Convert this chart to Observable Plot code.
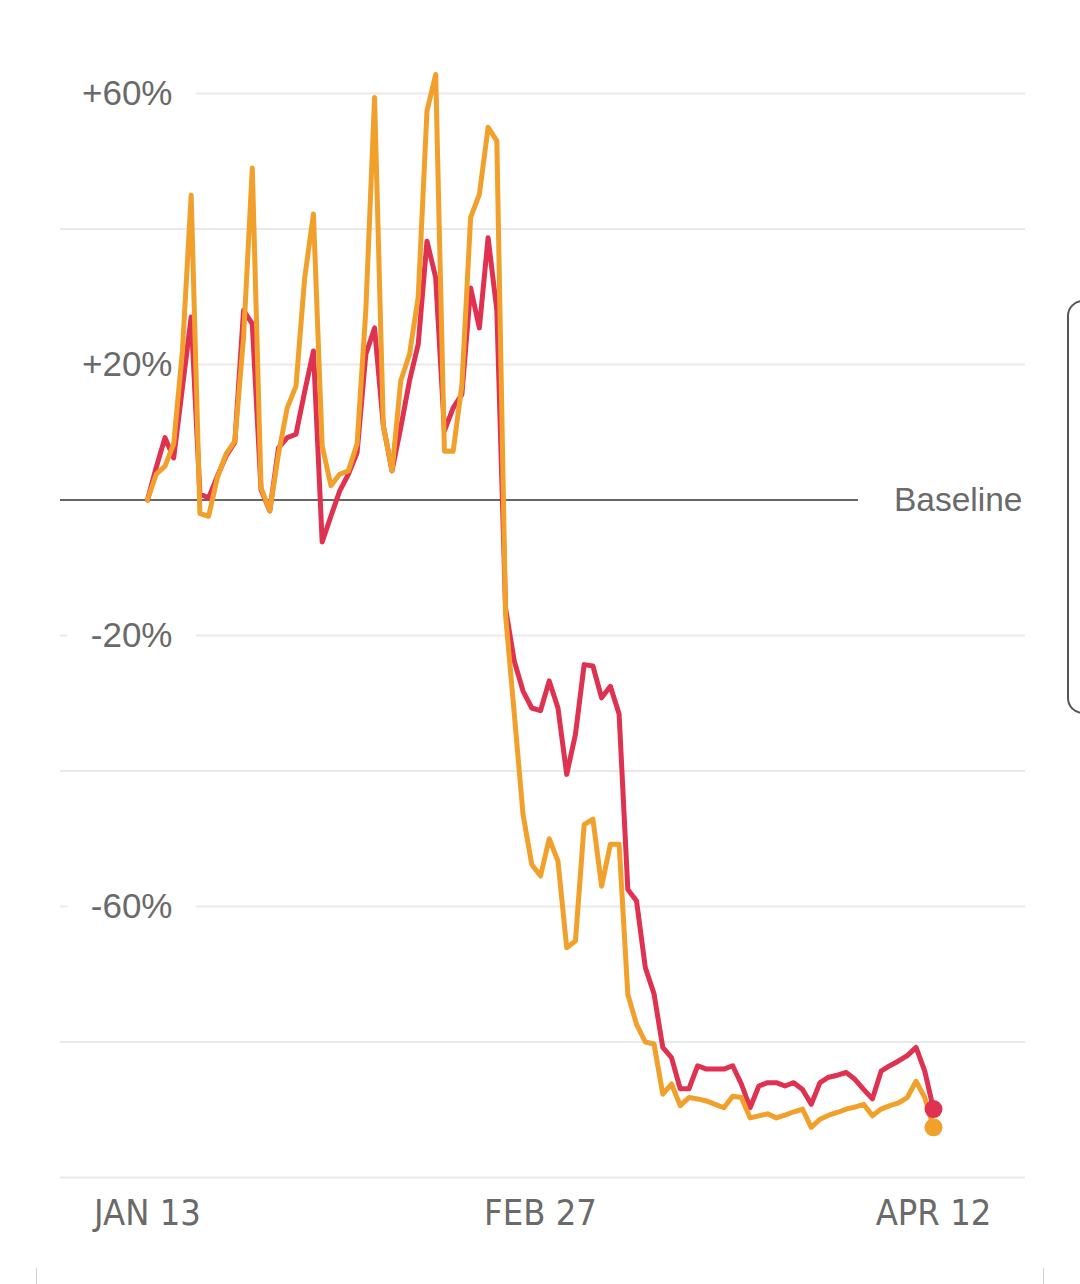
<!DOCTYPE html>
<html>
<head>
<meta charset="utf-8">
<script src="https://cdn.jsdelivr.net/npm/d3@7"></script>
<script src="https://cdn.jsdelivr.net/npm/@observablehq/plot@0.6"></script>
<style>
  html, body { margin: 0; padding: 0; background: #fff; }
  #wrap { position: relative; width: 1080px; height: 1284px; overflow: hidden; }
  .scroll { position: absolute; left: 1067px; top: 300px; width: 40px; height: 410px; border: 2px solid #555; border-radius: 16px; }
  .tick { position: absolute; top: 1268px; width: 1px; height: 16px; background: #d0d0d0; }
</style>
</head>
<body>
<div id="wrap"></div>
<script>
// Daily change vs. baseline (%), Jan 13 – Apr 12
const startDate = new Date(Date.UTC(2020, 0, 13));
const endDate = new Date(Date.UTC(2020, 3, 13));

const redValues = [
  0, 4.8, 9.2, 6.2, 16.6, 27, 0.9, 0.3, 3.5, 6.5, 8.5,
  28, 26, 1.5, -1.6, 7.7, 9.2, 9.7, 16, 22, -6.2,
  -2.4, 1.3, 3.8, 7, 21.5, 25.4, 11, 4.3, 10.7, 17.6,
  23, 38.2, 32.8, 10.2, 13.6, 15.6, 31.3, 25.4, 38.7, 28,
  -16, -23.8, -28.2, -30.7, -31.1, -26.7, -30.7, -40.5, -34.6, -24.3,
  -24.5, -29.2, -27.5, -31.6, -57.5, -59.2, -69, -72.9, -80.8, -82.3,
  -86.9, -86.9, -83.5, -84, -84, -84, -83.5, -86.2, -89.7, -86.5,
  -86, -86, -86.5, -86, -87, -89.2, -86, -85.2, -84.9, -84.5,
  -85.5, -87, -88.4, -84.3, -83.5, -82.8, -82, -80.8, -84.3, -89.9
];

const orangeValues = [
  0, 3.8, 5, 8.3, 22, 45, -2, -2.4, 3.3, 6.8, 8.7,
  24, 49, 1.8, -1.6, 6.8, 13.6, 16.8, 32.8, 42.2, 8,
  2.1, 3.8, 4.3, 8.3, 28, 59.4, 11, 4.3, 17.6, 21.5,
  30, 57.4, 62.8, 7.2, 7.2, 17, 41.7, 45.1, 55, 53,
  -17, -31.6, -46.4, -53.8, -55.5, -50, -53.3, -66.1, -65.1, -47.9,
  -47.1, -57, -50.8, -50.8, -73, -77.4, -80, -80.3, -87.7, -86.2,
  -89.4, -88.2, -88.4, -88.7, -89.2, -89.7, -88, -88.2, -91.2, -90.9,
  -90.6, -91.2, -90.8, -90.3, -89.9, -92.6, -91.4, -90.8, -90.4, -89.9,
  -89.6, -89.2, -90.9, -89.9, -89.4, -89, -88.2, -85.8, -88.2, -92.6
];

const gridValues = [60, 40, 20, -20, -40, -60, -80, -100];
const yLabelValues = [60, 20, -20, -60];
const yLabels = ["+60%", "+20%", "-20%", "-60%"];
const tickDates = [new Date(Date.UTC(2020, 0, 13)), new Date(Date.UTC(2020, 1, 27)), new Date(Date.UTC(2020, 3, 12))];
const tickLabels = ["JAN 13", "FEB 27", "APR 12"];
const baselineLabel = "Baseline";

const RED = "#df3150";
const ORANGE = "#f1a02c";

const dates = d3.utcDay.range(startDate, endDate);
const data = dates.map((date, i) => ({date, red: redValues[i], orange: orangeValues[i]}));
const last = [data[data.length - 1]];

const chart = Plot.plot({
  width: 1080,
  height: 1284,
  marginTop: 93,
  marginBottom: 107,
  marginLeft: 60,
  marginRight: 55,
  style: {background: "white", overflow: "visible", fontFamily: "'Liberation Sans', Arial, sans-serif"},
  x: {type: "utc", domain: [tickDates[0], tickDates[2]], range: [147, 933]},
  y: {domain: [-100, 60], axis: null},
  marks: [
    Plot.ruleY(gridValues, {stroke: "#e9e9e9", strokeWidth: 2}),
    Plot.ruleY([0], {stroke: "#333", strokeWidth: 1.6, insetRight: 167}),
    Plot.text(yLabelValues, {
      y: d => d, text: (d, i) => yLabels[i],
      frameAnchor: "left", dx: 112, textAnchor: "end",
      fontSize: 35, fill: "#6a6a6a", stroke: "white", strokeWidth: 50
    }),
    Plot.text([baselineLabel], {
      y: 0, text: d => d, frameAnchor: "right", dx: -3, textAnchor: "end",
      fontSize: 33.5, fill: "#6a6a6a"
    }),
    Plot.axisX(tickDates, {
      tickFormat: d => tickLabels[tickDates.findIndex(t => +t === +d)],
      tickSize: 0, tickPadding: 22, fontSize: 36, fill: "#6a6a6a",
      fontFamily: "'Liberation Sans Narrow', 'DejaVu Sans Condensed', sans-serif"
    }),
    Plot.line(data, {x: "date", y: "red", stroke: RED, strokeWidth: 5, strokeLinejoin: "round"}),
    Plot.line(data, {x: "date", y: "orange", stroke: ORANGE, strokeWidth: 5, strokeLinejoin: "round"}),
    Plot.dot(last, {x: "date", y: "orange", r: 9, fill: ORANGE}),
    Plot.dot(last, {x: "date", y: "red", r: 9, fill: RED})
  ]
});

const wrap = document.getElementById("wrap");
wrap.appendChild(chart);
const s = document.createElement("div"); s.className = "scroll"; wrap.appendChild(s);
[36, 1043].forEach(x => { const t = document.createElement("div"); t.className = "tick"; t.style.left = x + "px"; wrap.appendChild(t); });
</script>
</body>
</html>
